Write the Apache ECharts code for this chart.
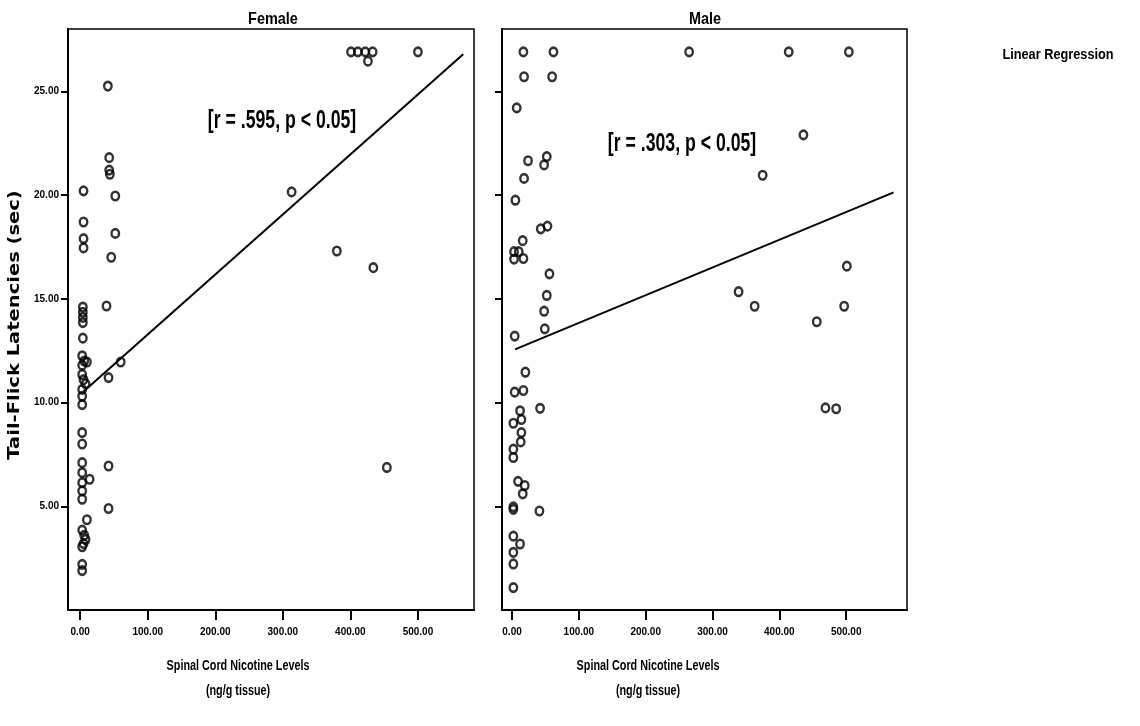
<!DOCTYPE html>
<html>
<head>
<meta charset="utf-8">
<script src="https://cdn.jsdelivr.net/npm/echarts@6/dist/echarts.min.js"></script>
<style>
html,body{margin:0;padding:0;background:#fff;}
#chart{width:1140px;height:726px;}
</style>
</head>
<body>
<div id="chart"></div>
<script>
// ---- Data ----
const panelTitles = ['Female', 'Male'];
const annotations = ['[r = .595, p < 0.05]', '[r = .303, p < 0.05]'];
const xTickValues = [0, 100, 200, 300, 400, 500];
const yTickValues = [5, 10, 15, 20, 25];
const xAxisTitle = 'Spinal Cord Nicotine Levels\n(ng/g tissue)';
const yAxisTitle = 'Tail-Flick Latencies (sec)';
const legendLabel = 'Linear Regression';

// [nicotine (ng/g), latency (sec)]
const femalePoints = [
  [41,25.25],
  [43,21.8],[43,21.2],[44,21.0],
  [5,20.2],[52,19.95],
  [5,18.7],[5,17.9],[5,17.45],
  [52,18.15],[46,17.0],
  [39,14.65],
  [4,14.6],[4,14.35],[4,14.1],[4,13.85],
  [4,13.1],
  [3,12.25],[6,12.0],[10,11.95],[3,11.8],
  [3,11.35],[5,11.1],[8,10.9],[3,10.63],
  [3,10.3],[3,9.9],
  [42,11.2],[60,11.95],
  [3,8.55],[3,8.0],
  [3,7.1],[3,6.62],[3,6.14],[3,5.74],[3,5.34],[14,6.3],
  [42,6.94],[42,4.89],
  [10,4.35],[3,3.85],[6,3.6],[8,3.4],[5,3.2],[3,3.05],
  [3,2.2],[3,1.9],
  [401,26.9],[411,26.9],[422,26.9],[433,26.9],[426,26.45],[500,26.9],
  [313,20.15],[380,17.3],[434,16.5],[454,6.87]
];
const malePoints = [
  [17,26.9],[62,26.9],[265,26.9],[414,26.9],[504,26.9],
  [18,25.7],[60,25.7],
  [7,24.2],
  [436,22.9],
  [24,21.65],[52,21.85],[48,21.45],
  [375,20.95],
  [18,20.8],
  [5,19.75],
  [43,18.37],[53,18.5],
  [16,17.8],
  [3,17.27],[10,17.27],[17,16.94],[3,16.91],
  [56,16.2],[52,15.16],[48,14.4],[49,13.55],
  [4,13.2],
  [20,11.46],
  [4,10.5],[17,10.58],
  [42,9.72],[12,9.6],
  [2,9.0],[14,9.18],[14,8.55],[13,8.1],
  [2,7.75],[2,7.35],
  [9,6.2],[19,6.0],[16,5.6],
  [2,4.97],[2,4.85],[41,4.77],
  [2,3.56],[12,3.18],[2,2.78],[2,2.22],[2,1.08],
  [339,15.34],[363,14.64],[456,13.89],[497,14.64],[501,16.57],[469,9.74],[485,9.7]
];
// regression line end points
const femaleFit = [[5,10.53],[567,26.78]];
const maleFit = [[4.5,12.56],[571,20.13]];

// ---- Chart ----
const SANS = "'Liberation Sans',Arial,sans-serif";
const INK = '#000';

function makeX(gridIndex, min, max) {
  return {
    gridIndex, type: 'value', min, max,
    axisLine: {show: true, onZero: false, lineStyle: {color: INK, width: 2}},
    axisTick: {show: true, customValues: xTickValues, length: 10, lineStyle: {color: INK, width: 2}},
    axisLabel: {customValues: xTickValues, formatter: v => v.toFixed(2), margin: 17,
      color: INK, fontFamily: SANS, fontWeight: 'bold', fontSize: 10},
    splitLine: {show: false}
  };
}
function makeY(gridIndex, showLabels) {
  return {
    gridIndex, type: 'value', min: 0, max: 28,
    axisLine: {show: true, onZero: false, lineStyle: {color: INK, width: 2}},
    axisTick: {show: true, customValues: yTickValues, length: 7, lineStyle: {color: INK, width: 2}},
    axisLabel: {show: showLabels, customValues: yTickValues, formatter: v => v.toFixed(2), margin: 9,
      color: INK, fontFamily: SANS, fontWeight: 'bold', fontSize: 10},
    splitLine: {show: false}
  };
}
const scatterStyle = {color: 'rgba(255,255,255,0)', borderColor: INK, borderWidth: 2.5};

function label(text, x, y, font, scaleX, extra) {
  return Object.assign({
    type: 'text', x, y, scaleX,
    style: {text, textAlign: 'center', textVerticalAlign: 'middle', fill: INK, font}
  }, extra || {});
}

const chart = echarts.init(document.getElementById('chart'), null, {renderer: 'canvas'});
chart.setOption({
  backgroundColor: '#fff',
  animation: false,
  grid: [
    {left: 68, top: 29, width: 406, height: 581, show: true, borderColor: INK, borderWidth: 1.5, backgroundColor: 'transparent'},
    {left: 502, top: 29, width: 405, height: 581, show: true, borderColor: INK, borderWidth: 1.5, backgroundColor: 'transparent'}
  ],
  xAxis: [makeX(0, -18, 583), makeX(1, -15, 591)],
  yAxis: [makeY(0, true), makeY(1, false)],
  series: [
    {type: 'scatter', xAxisIndex: 0, yAxisIndex: 0, data: femalePoints, symbol: 'circle', symbolSize: [7.5, 8.5], itemStyle: scatterStyle},
    {type: 'line', xAxisIndex: 0, yAxisIndex: 0, data: femaleFit, symbol: 'none', lineStyle: {color: INK, width: 2}},
    {type: 'scatter', xAxisIndex: 1, yAxisIndex: 1, data: malePoints, symbol: 'circle', symbolSize: [7.5, 8.5], itemStyle: scatterStyle},
    {type: 'line', xAxisIndex: 1, yAxisIndex: 1, data: maleFit, symbol: 'none', lineStyle: {color: INK, width: 2}}
  ],
  graphic: [
    label(panelTitles[0], 273, 19, "bold 17px " + SANS, 0.85),
    label(panelTitles[1], 705, 19, "bold 17px " + SANS, 0.85),
    label(annotations[0], 282, 121, "bold 26px " + SANS, 0.68),
    label(annotations[1], 682, 144, "bold 26px " + SANS, 0.68),
    label(legendLabel, 1058, 55, "bold 15px " + SANS, 0.85),
    label(yAxisTitle, 15, 325, "bold 15px 'DejaVu Sans',sans-serif", 1.3, {rotation: Math.PI / 2}),
    {type: 'text', x: 238, y: 678, scaleX: 0.72, style: {text: xAxisTitle, textAlign: 'center', textVerticalAlign: 'middle', fill: INK, font: "bold 15px " + SANS, lineHeight: 25}},
    {type: 'text', x: 648, y: 678, scaleX: 0.72, style: {text: xAxisTitle, textAlign: 'center', textVerticalAlign: 'middle', fill: INK, font: "bold 15px " + SANS, lineHeight: 25}}
  ]
});
</script>
</body>
</html>
